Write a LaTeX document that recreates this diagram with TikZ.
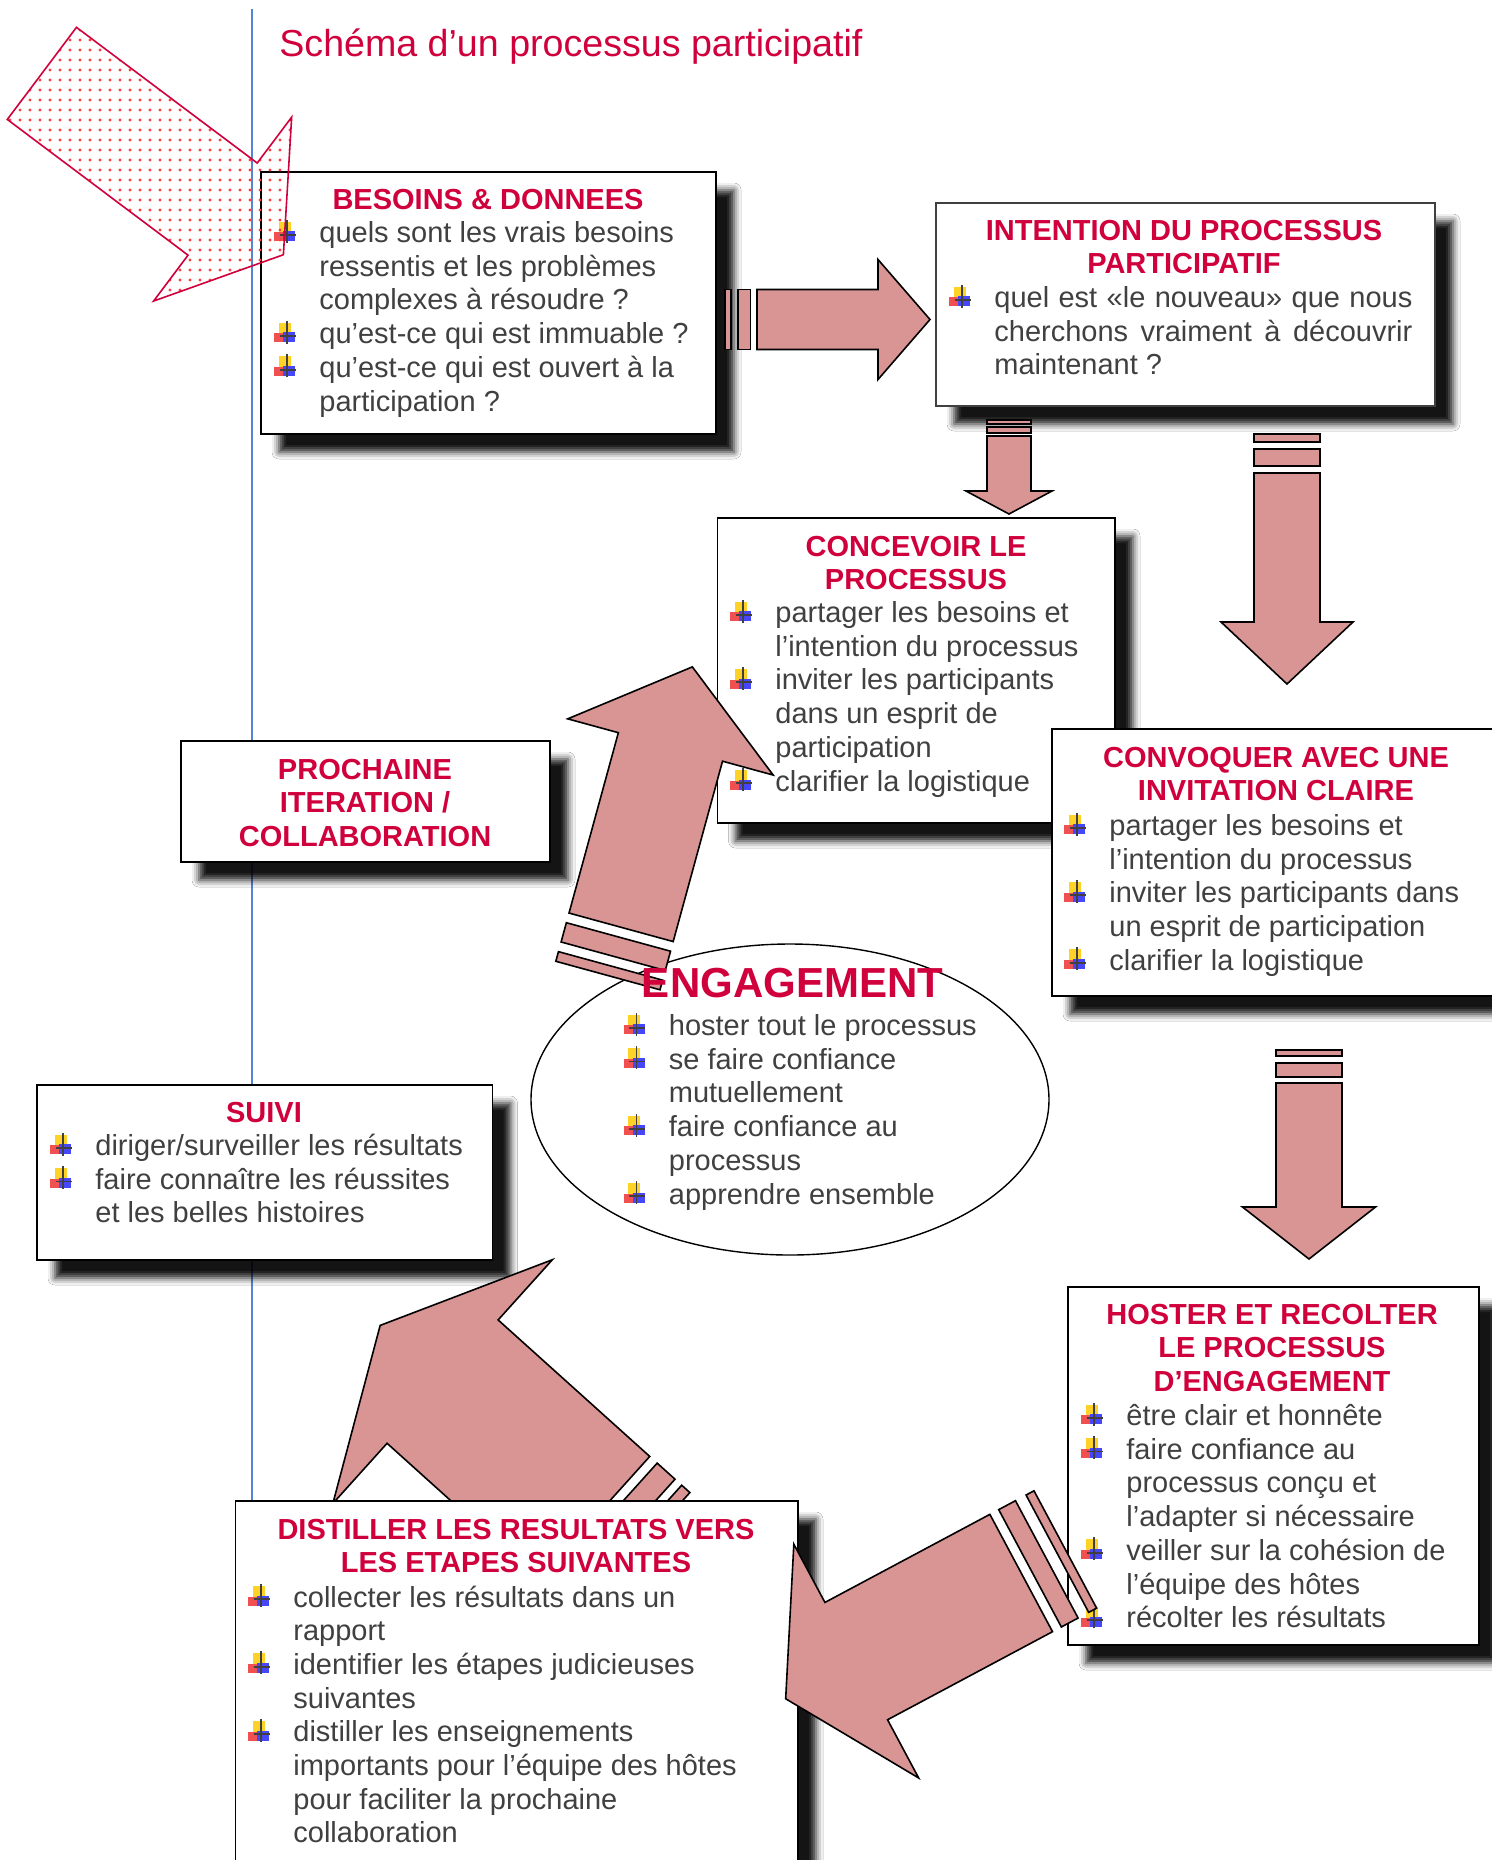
\documentclass[tikz,border=0pt]{standalone}
\usepackage{fontspec}
\setmainfont{Liberation Sans}
\usetikzlibrary{shapes.geometric, fit, shadows.blur, patterns.meta}
\definecolor{titlered}{RGB}{208,0,60}
\definecolor{bodygray}{RGB}{64,64,64}
\definecolor{arrowpink}{RGB}{217,149,148}
\definecolor{linkblue}{RGB}{84,132,214}
\definecolor{iconyellow}{RGB}{255,210,40}
\definecolor{iconred}{RGB}{240,80,80}
\definecolor{iconblue}{RGB}{70,70,250}

% little plus icon in front of every item
\newcommand{\plusicon}{%
  \rlap{\kern2.2pt\textcolor{iconyellow}{\rule[3pt]{6pt}{7.5pt}}}%
  \rlap{\textcolor{iconred}{\rule[0.6pt]{4.5pt}{4.5pt}}}%
  \rlap{\kern4.3pt\textcolor{iconblue}{\rule[0.6pt]{6pt}{5pt}}}%
  \rlap{\kern5.8pt\rule{0.9pt}{11.5pt}}%
  \rlap{\kern2.6pt\rule[3.4pt]{8pt}{0.9pt}}}
\newcommand{\bl}{\makebox[22.5pt][l]{\plusicon}}
\newcommand{\nb}{\hspace*{22.5pt}}

% outline of a block arrow: half shaft, shaft length, half head, head length
\newcommand{\arrowpath}[4]{(0,-#1) -- (#2,-#1) -- (#2,-#3) -- (#2+#4,0) -- (#2,#3) -- (#2,#1) -- (0,#1) -- cycle}
% block arrow with the two bars behind its tail
\newcommand{\blockarrow}[7]{%
  \begin{scope}[shift={#1}, rotate=#2]
    \draw[arrowbody] \arrowpath{#3}{#4}{#5}{#6};
    \foreach \sa/\sb in {#7}
      \draw[arrowbody] (\sa,-#3) rectangle (\sb,#3);
  \end{scope}}

\begin{document}
\begin{tikzpicture}[x=0.5pt, y=-0.5pt,
  box/.style      = {draw, line width=0.9pt, fill=white, inner sep=0pt,
                     blur shadow={shadow xshift=9pt, shadow yshift=-9pt, shadow blur radius=3.5pt, shadow opacity=92}},
  ttl/.style      = {font=\bfseries\fontsize{14.5}{16.85}\selectfont, text=titlered, align=center, inner sep=0pt, anchor=base},
  items/.style    = {font=\fontsize{14.5}{16.85}\selectfont, text=bodygray, align=left, inner sep=0pt, anchor=base west},
  arrowbody/.style = {draw, line width=0.8pt, fill=arrowpink},
  dotarrow/.style = {draw=titlered, line width=0.8pt, pattern={Dots[distance=5pt, radius=0.8pt]}, pattern color=red!75},
  engage/.style   = {ellipse, draw, line width=0.7pt, fill=white, inner sep=0pt, minimum width=259pt, minimum height=155.5pt}]

\useasboundingbox (0,0) rectangle (1492,1860);
\fill[white] (0,0) rectangle (1492,1860);

% margin line and heading
\draw[linkblue, line width=0.6pt] (252,9) -- (252,1860);
\node[font=\fontsize{18.8}{22}\selectfont, text=titlered, anchor=base west, inner sep=0pt] (titre) at (279,56) {Schéma d’un processus participatif};

% the boxes of the cycle (text nodes sit on the baseline of their last line)
\node[box, fit={(261,172) (716,434)}] (besoins) {};
\node[ttl] (besoins1) at (488,209) {BESOINS \& DONNEES};
\node[items] (besoins2) at (274,411) {\bl quels sont les vrais besoins\\
  \nb ressentis et les problèmes\\ \nb complexes à résoudre ?\\
  \bl qu’est-ce qui est immuable ?\\ \bl qu’est-ce qui est ouvert à la\\ \nb participation ?};

\node[box, draw=black!75, line width=0.7pt, fit={(936,203) (1435,406)}] (intention) {};
\node[ttl] (intention1) at (1184,273.7) {INTENTION DU PROCESSUS\\ PARTICIPATIF};
\node[items] (intention2) at (949,374.9) {\bl\makebox[209pt][s]{quel est «le nouveau» que nous}\\
  \nb\makebox[209pt][s]{cherchons vraiment à découvrir}\\ \nb maintenant ?};

\node[box, fit={(717.5,518) (1115,823)}] (concevoir) {};
\node[ttl] (concevoir1) at (916,589.7) {CONCEVOIR LE\\ PROCESSUS};
\node[items] (concevoir2) at (730,791) {\bl partager les besoins et\\ \nb l’intention du processus\\
  \bl inviter les participants\\ \nb dans un esprit de\\ \nb participation\\ \bl clarifier la logistique};

\node[box, fit={(1052,729) (1520,996)}] (convoquer) {};
\node[ttl] (convoquer1) at (1276,800.7) {CONVOQUER AVEC UNE\\ INVITATION CLAIRE};
\node[items] (convoquer2) at (1064,970.3) {\bl partager les besoins et\\ \nb l’intention du processus\\
  \bl inviter les participants dans\\ \nb un esprit de participation\\ \bl clarifier la logistique};

\node[box, fit={(181,741) (550,862)}] (prochaine) {};
\node[ttl] (prochaine1) at (365,846.4) {PROCHAINE\\ ITERATION /\\ COLLABORATION};

\node[box, fit={(37,1085) (492.5,1260)}] (suivi) {};
\node[ttl] (suivi1) at (264,1122) {SUIVI};
\node[items] (suivi2) at (50,1222.9) {\bl diriger/surveiller les résultats\\
  \bl faire connaître les réussites\\ \nb et les belles histoires};

\node[box, fit={(1068,1287) (1479,1645)}] (hoster) {};
\node[ttl] (hoster1) at (1272,1391.4) {HOSTER ET RECOLTER\\ LE PROCESSUS\\ D’ENGAGEMENT};
\node[items] (hoster2) at (1081,1627.7) {\bl être clair et honnête\\ \bl faire confiance au\\
  \nb processus conçu et\\ \nb l’adapter si nécessaire\\ \bl veiller sur la cohésion de\\
  \nb l’équipe des hôtes\\ \bl récolter les résultats};

% arrows between the boxes
\blockarrow{(757,319.5)}{0}{30}{121}{60}{52}{-32/-26,-19/-6.5}
\blockarrow{(1009,436)}{-90}{22}{55}{43}{23}{-16/-12,-9/-3}
\blockarrow{(1287,473)}{-90}{33}{149}{66}{62}{-39/-31,-24/-7}
\blockarrow{(1309,1083)}{-90}{33}{124}{66.5}{52}{-33/-27,-20/-6}

% dotted entry arrow
\begin{scope}[shift={(41.9,73.4)}, rotate=-36.9]
  \draw[dotarrow] \arrowpath{57.6}{226}{115}{76};
\end{scope}

% engagement in the middle
\node[engage] (engagement) at (790,1099.5) {};
\blockarrow{(621.1,927.3)}{74.7}{54}{187}{106.5}{83}{-30/-10,-50/-40}
\node[ttl, font=\bfseries\fontsize{21}{24}\selectfont] (engagement1) at (792.5,997) {ENGAGEMENT};
\node[items] (engagement2) at (623.5,1204) {\bl hoster tout le processus\\ \bl se faire confiance\\
  \nb mutuellement\\ \bl faire confiance au\\ \nb processus\\ \bl apprendre ensemble};

% last box, with the arrow behind it
\blockarrow{(594.2,1518.1)}{138}{83}{204}{164}{84}{-34/-10,-54/-43}
\node[box, fit={(235.5,1501) (798,1890)}] (distiller) {};
\node[ttl] (distiller1) at (516,1572.7) {DISTILLER LES RESULTATS VERS\\ LES ETAPES SUIVANTES};
\node[items] (distiller2) at (248,1842.9) {\bl collecter les résultats dans un\\ \nb rapport\\
  \bl identifier les étapes judicieuses\\ \nb suivantes\\ \bl distiller les enseignements\\
  \nb importants pour l’équipe des hôtes\\ \nb pour faciliter la prochaine\\ \nb collaboration};

\blockarrow{(1021.2,1573)}{-151.9}{66.5}{187}{132.5}{80}{-29/-10,-50/-41}

\end{tikzpicture}
\end{document}
